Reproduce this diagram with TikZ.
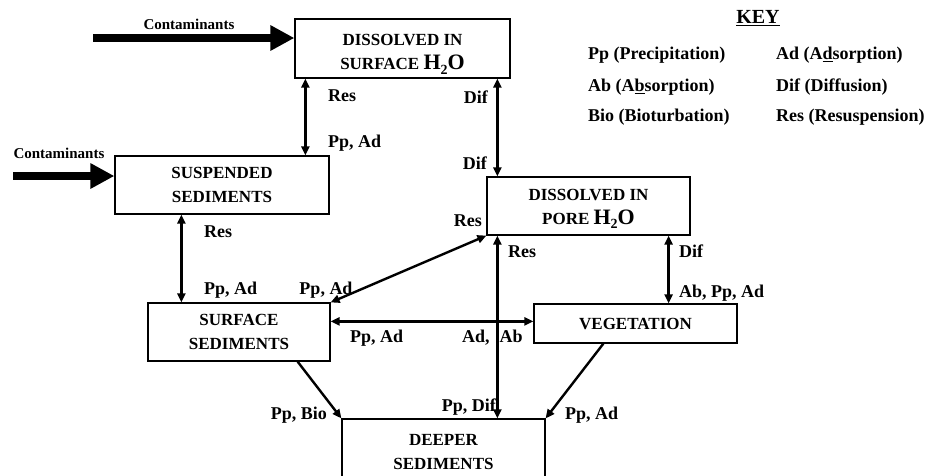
\documentclass[tikz,border=0pt]{standalone}
\usepackage{fontspec}
\setmainfont{Liberation Serif}
\usetikzlibrary{arrows.meta}

\newcommand{\water}{{\fontsize{22}{22}\selectfont H\raisebox{-0.22em}{\fontsize{14}{14}\selectfont 2}O}}

\tikzset{
  box/.style={draw, line width=1.2pt, inner sep=0pt, align=center, font=\bfseries\fontsize{17}{24}\selectfont},
  conn/.style={line width=2.4pt, {Triangle[length=9pt,width=8pt]}-{Triangle[length=9pt,width=8pt]}},
  oneway/.style={line width=2.4pt, -{Triangle[length=9pt,width=8pt]}},
  bigarrow/.style={line width=8pt, -{Triangle[length=24pt,width=24pt]}},
  lbl/.style={font=\bfseries\fontsize{18}{22}\selectfont, inner sep=0pt},
  inlbl/.style={font=\bfseries\fontsize{15}{18}\selectfont, inner sep=0pt},
  keytxt/.style={font=\bfseries\fontsize{18}{22}\selectfont, inner sep=0pt, anchor=west}
}

\begin{document}
\begin{tikzpicture}[x=1pt,y=-1pt]
\clip (0,0) rectangle (929,475);

% compartments
\node[box, minimum width=215pt, minimum height=59pt] (surfH2O) at (402.5,48.5) {\rule{0pt}{23pt}DISSOLVED IN\\SURFACE \water};
\node[box, minimum width=214pt, minimum height=58pt] (susp) at (222,185) {SUSPENDED\\SEDIMENTS};
\node[box, minimum width=203pt, minimum height=58pt] (pore) at (588.5,206) {\rule{0pt}{17pt}DISSOLVED IN\\PORE \water};
\node[box, minimum width=182pt, minimum height=58pt] (surfsed) at (239,332) {SURFACE\\SEDIMENTS};
\node[box, minimum width=203pt, minimum height=39pt] (veg) at (635.5,323.5) {VEGETATION};
\node[box, minimum width=203pt, minimum height=66pt] (deep) at (443.5,452) {DEEPER\\SEDIMENTS};

% inputs
\coordinate (in1) at (93,38);
\coordinate (in2) at (13,176);
\draw[bigarrow] (in1) -- (in1 -| surfH2O.west);
\draw[bigarrow] (in2) -- (in2 -| susp.west);
\node[inlbl] (cont1) at (189,24) {Contaminants};
\node[inlbl] (cont2) at (59,153) {Contaminants};

% exchanges
\draw[conn] ([xshift=11pt]surfH2O.south west) -- ([xshift=11pt]surfH2O.south west |- susp.north);
\draw[conn] ([xshift=11pt]pore.north west) -- ([xshift=11pt]pore.north west |- surfH2O.south);
\draw[conn] ([xshift=67pt]susp.south west) -- ([xshift=67pt]susp.south west |- surfsed.north);
\draw[conn] (pore.south west) -- (surfsed.north east);
\draw[conn] ([yshift=-19pt]surfsed.north east) -- ([yshift=-19pt]surfsed.north east -| veg.west);
\draw[conn] ([xshift=11pt]pore.south west) -- ([xshift=11pt]pore.south west |- deep.north);
\draw[conn] ([xshift=-22pt]pore.south east) -- ([xshift=-22pt]pore.south east |- veg.north);
\draw[oneway] ([xshift=-33pt]surfsed.south east) -- (deep.north west);
\draw[oneway] ([xshift=70pt]veg.south west) -- (deep.north east);

% process labels
\node[lbl, anchor=west] (resA) at (328,96) {Res};
\node[lbl, anchor=west] (ppA) at (328,143) {Pp, Ad};
\node[lbl, anchor=east] (difB1) at (488,97) {Dif};
\node[lbl, anchor=east] (difB2) at (487,163) {Dif};
\node[lbl, anchor=west] (resC) at (204,232) {Res};
\node[lbl, anchor=west] (ppC) at (204,290) {Pp, Ad};
\node[lbl] (ppD) at (326,290) {Pp, Ad};
\node[lbl, anchor=east] (resD) at (482,221) {Res};
\node[lbl, anchor=west] (resF) at (508,252) {Res};
\node[lbl, anchor=west] (difG) at (679,251) {Dif};
\node[lbl, anchor=west] (ppG) at (679,293) {Ab, Pp, Ad};
\node[lbl, anchor=west] (ppE) at (350,338) {Pp, Ad};
\node[lbl, anchor=west] (adE) at (462,338) {Ad,\hspace{10pt}Ab};
\node[lbl, anchor=east] (ppH) at (327,415) {Pp, Bio};
\node[lbl, anchor=east] (ppF) at (496,407) {Pp, Dif};
\node[lbl, anchor=west] (ppI) at (565,415) {Pp, Ad};

% key
\node[lbl, font=\bfseries\fontsize{20}{22}\selectfont] (keyhead) at (758,18) {\underline{KEY}};
\node[keytxt] (kPp) at (588,55) {Pp (Precipitation)};
\node[keytxt] (kAb) at (588,87) {Ab (A\underline{b}sorption)};
\node[keytxt] (kBio) at (588,117) {Bio (Bioturbation)};
\node[keytxt] (kAd) at (776,55) {Ad (A\underline{d}sorption)};
\node[keytxt] (kDif) at (776,87) {Dif (Diffusion)};
\node[keytxt] (kRes) at (776,117) {Res (Resuspension)};

\end{tikzpicture}
\end{document}
